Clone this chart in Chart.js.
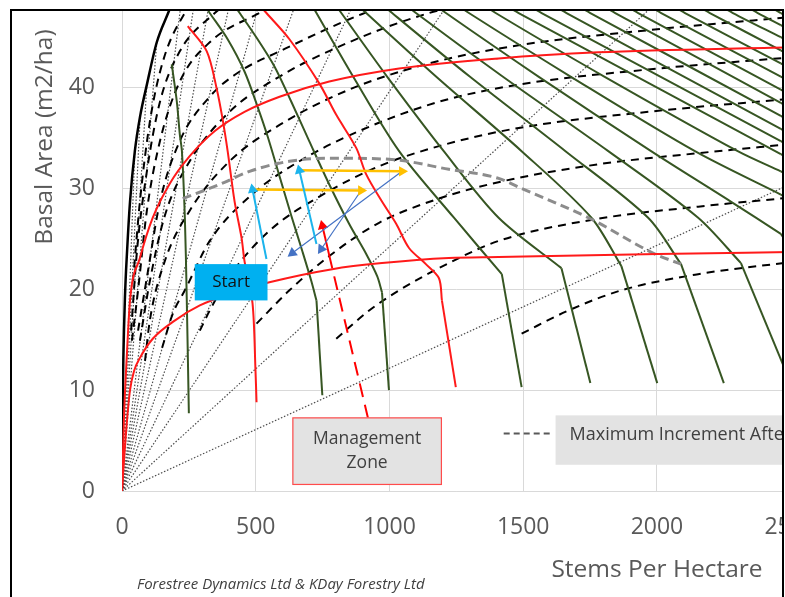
<!DOCTYPE html>
<html>
<head>
<meta charset="utf-8">
<script src="https://cdn.jsdelivr.net/npm/chart.js@4.4.0/dist/chart.umd.min.js"></script>
<style>
  html, body { margin: 0; padding: 0; background: #fff; }
  #page { position: relative; width: 785px; height: 597px; overflow: hidden; background: #fff; }
  #frame { position: absolute; left: 10px; top: 9px; width: 770px; height: 620px;
           border: 2px solid #000; border-bottom: none; overflow: hidden; background: #fff; }
  #wrap { position: absolute; left: -12px; top: -65px; width: 840px; height: 651px; }
</style>
</head>
<body>
<div id="page"><div id="frame"><div id="wrap"><canvas id="chart" width="840" height="651"></canvas></div></div></div>
<script>
// ---- data: [stems per hectare, basal area] ----
const maxDensity = [[0,0],[2,7],[5,13],[11,19.2],[19,23.8],[30,28.7],[48,33.7],[68,37.2],[93,40.3],[130,44.5],[171,47.3],[205,49.4]];

// red height curves
const heightLow  = [[0,0],[10,4],[22,8],[30,10],[45,11.9],[67,13.2],[115,15.1],[197,16.9],[291,18.4],[421,19.7],[551,20.7],[786,22.0],[972,22.6],[1222,23.1],[1408,23.2],[2004,23.5],[2500,23.7]];
const heightHigh = [[0,0],[7,7],[19,13.9],[30,18.9],[67,23.1],[115,27.1],[179,30.5],[253,33.2],[347,35.7],[458,37.6],[589,39.1],[775,40.6],[1036,41.9],[1408,42.9],[1781,43.5],[2500,44.0]];

// red planting trajectories
const plant500  = [[503,8.8],[499,12.0],[488,18.6],[458,22.8],[447,25.1],[421,28.7],[395,33.7],[376,36.9],[354,39.9],[317,43.6],[246,46.1]];
const plant1250 = [[1248,10.3],[1196,18.9],[1185,21.1],[1136,22.5],[1073,24.1],[1025,26.5],[972,28.7],[913,31.4],[876,34.0],[801,37.3],[738,40.4],[626,44.8],[540,47.4],[500,48.6]];

// green planting trajectories (first point = planting base)
const plant250  = [[250,7.7],[242,19.2],[235,27.1],[224,33.7],[216,35.4],[205,38.6],[186,42.3]];
const plant750  = [[749,9.5],[727,18.9],[708,20.8],[674,23.8],[633,27.3],[589,31.2],[544,35.2],[507,38.1],[458,41.6],[395,44.8],[328,47.4],[300,48.5]];
const plant1000 = [[998,10.0],[972,19.7],[954,21.3],[913,23.5],[849,26.5],[775,30.4],[700,34.7],[633,38.6],[570,42.1],[507,44.8],[440,47.4],[410,48.5]];
const plant1500 = [[1494,10.3],[1420,21.5],[1241,27.1],[1036,33.7],[864,41.1],[727,47.4],[692,49]];
const plant1750 = [[1751,10.7],[1643,22.1],[1408,27.1],[1203,33.7],[991,41.1],[820,47.4],[777,49]];
const plant2000 = [[2001,10.7],[1867,22.3],[1755,27.1],[1494,33.7],[1174,41.1],[913,47.4],[850,49]];
const plant2250 = [[2250,10.7],[2090,22.5],[1967,27.1],[1658,33.7],[1300,41.1],[1010,47.4],[940,49]];
const plant2500 = [[2500,10.7],[2314,22.6],[2154,27.1],[1818,33.7],[1423,41.1],[1099,47.4],[1025,49]];
const plant2750 = [[2537,22.8],[2463,25.5],[2276,28.7],[1978,33.7],[1557,41.1],[1211,47.4],[1130,49]];
const plant3000 = [[2638,26.3],[2463,29.4],[2142,33.7],[1677,41.1],[1297,47.4],[1210,49]];
const plant3250 = [[2640,29.5],[2463,31.7],[2302,33.7],[1803,41.1],[1397,47.4],[1310,49]];
const plant3500 = [[2640,30.9],[2463,33.4],[1483,47.4],[1411,48.5]];
const plant3750 = [[2640,32.2],[2463,34.7],[1569,47.4],[1497,48.5]];
const plant4000 = [[2640,33.4],[2463,35.9],[1662,47.4],[1590,48.5]];
const plant4250 = [[2640,34.7],[2463,37.2],[1751,47.4],[1679,48.5]];
const plant4500 = [[2640,36.0],[2463,38.5],[1844,47.4],[1772,48.5]];
const plant4750 = [[2640,37.3],[2463,39.8],[1930,47.4],[1858,48.5]];
const plant5000 = [[2640,38.6],[2463,41.1],[2016,47.4],[1944,48.5]];
const plant5250 = [[2640,39.9],[2463,42.4],[2105,47.4],[2033,48.5]];
const plant5500 = [[2640,41.2],[2463,43.7],[2198,47.4],[2126,48.5]];
const plant5750 = [[2640,42.5],[2463,45.0],[2284,47.4],[2212,48.5]];
const plant6000 = [[2640,43.7],[2463,46.2],[2377,47.4],[2305,48.5]];
const plant6250 = [[2640,45.0],[2463,47.4],[2391,48.5]];

// black dashed isolines
const iso1  = [[1494,15.6],[1669,17.9],[1867,19.9],[2154,21.5],[2500,22.7]];
const iso2  = [[801,15.1],[924,17.9],[1036,19.9],[1222,22.6],[1408,24.8],[1781,27.0],[2154,28.2],[2500,29.1]];
const iso3  = [[503,16.6],[626,19.9],[775,23.3],[961,26.6],[1185,29.0],[1420,30.7],[1781,32.4],[2154,33.5],[2500,34.4]];
const iso4  = [[291,15.9],[328,17.9],[402,21.3],[551,25.8],[738,29.2],[961,32.2],[1185,34.2],[1483,36.0],[1967,37.6],[2500,38.9]];
const iso5  = [[150,14.2],[190,17.6],[235,19.9],[328,24.8],[477,29.2],[663,32.7],[887,35.7],[1185,38.6],[1483,40.3],[1967,41.8],[2500,43.0]];
const iso6  = [[86,12.9],[104,16.9],[160,22.8],[253,27.8],[402,32.7],[589,36.3],[849,39.8],[1148,42.4],[1483,44.2],[1967,45.7],[2500,47.0]];
const iso7  = [[67,14.9],[104,20.8],[160,27.3],[253,32.7],[402,37.6],[589,41.1],[849,44.5],[1148,47.4],[1334,48.5]];
const iso8  = [[60,15.9],[97,21.8],[142,28.7],[216,34.7],[328,39.1],[440,41.6],[589,43.6],[898,47.3],[1036,48.5]];
const iso9  = [[37,14.9],[60,19.9],[93,27.8],[142,34.7],[216,40.6],[328,44.5],[514,47.4],[600,48.5]];
const iso10 = [[34,15.9],[56,23.8],[93,31.7],[142,38.6],[216,43.6],[347,47.4],[400,48.5]];
const iso11 = [[41,20.8],[67,28.7],[104,36.6],[153,42.6],[235,47.4],[270,48.5]];

// dotted mean-diameter rays: end of each ray from the origin
const rayEnds = [[2500,30.45],[1981,48],[1211,48],[860,48],[645,48],[509,48],[400,48],[324,48],[268,48],[219,48],
                 [130,44.5],[93,40.3],[68,37.2],[48,33.7]];

// grey dashed: maximum increment after thinning
const maxIncrement = [[227,29.0],[365,30.4],[477,31.7],[626,32.7],[775,33.0],[998,32.9],[1222,31.9],[1408,31.0],[1494,30.0],[1744,27.1],[1993,23.5],[2090,22.5]];

// management arrows [from, to]
const growA   = [[540,23.0],[488,29.9]];
const growB   = [[727,24.5],[663,31.8]];
const thinA   = [[496,29.9],[894,29.8]];
const thinB   = [[656,31.8],[1047,31.7]];
const backA   = [[1047,31.7],[637,23.6]];
const backB   = [[894,29.8],[745,24.0]];
const zoneTop = [[786,22.1],[749,26.3]];
const zoneLow = [[920,7.2],[786,22.1]];

// annotation anchors (data units)
const startBox = [272, 544, 22.5, 18.9];
const zoneBox  = [637, 1196, 7.3, 0.6];
const keyBox   = [1621, 2700, 7.5, 2.6];
const keyDash  = [1427, 1606, 5.7];

const FONT = '"Open Sans", "Noto Sans", sans-serif';
const GREEN = '#375623';
const RED = '#ff1a1a';

const pts = a => a.map(p => ({ x: p[0], y: p[1] }));

function line(data, color, width, opts) {
  return Object.assign({
    data: pts(data), showLine: true, borderColor: color, borderWidth: width,
    pointRadius: 0, tension: 0.3, fill: false
  }, opts || {});
}

function smooth(data, color, width, opts) {
  return line(data, color, width, Object.assign({ cubicInterpolationMode: 'monotone' }, opts || {}));
}

function arrow(data, color, width, rot, size, dash) {
  return line(data, color, width, {
    tension: 0, borderDash: dash || [],
    pointRadius: [0, size], pointStyle: 'triangle', pointRotation: [0, rot],
    pointBackgroundColor: color, pointBorderColor: color, pointBorderWidth: 0, order: 0
  });
}

// trajectory: straight base segment, then smooth curve
function trajectory(data, color, order) {
  return [
    line(data.slice(0, 2), color, 2, { tension: 0, order: order }),
    line(data.slice(1), color, 2, { tension: 0.3, order: order })
  ];
}

const datasets = [];
datasets.push(arrow(growA, '#1cb4ec', 2, -11, 6));
datasets.push(arrow(growB, '#1cb4ec', 2, -13, 6));
datasets.push(arrow(thinA, '#ffc000', 2.5, 90, 6));
datasets.push(arrow(thinB, '#ffc000', 2.5, 90, 6));
datasets.push(arrow(backA, '#4472c4', 1.2, 233, 6));
datasets.push(arrow(backB, '#4472c4', 1.2, 214, 6));
datasets.push(arrow(zoneTop, '#ff0000', 2, -13, 6));
datasets.push(line(zoneLow, '#ff0000', 2, { tension: 0, borderDash: [14, 8], order: 0 }));

datasets.push(smooth(heightLow, RED, 2, { order: 1 }));
datasets.push(smooth(heightHigh, RED, 2, { order: 1 }));
datasets.push(line(plant500, RED, 2, { order: 1 }));
datasets.push(...trajectory(plant1250, RED, 1));

datasets.push(smooth(maxIncrement, '#8c8c8c', 3, { borderDash: [9, 5], order: 2 }));
datasets.push(smooth(maxDensity, '#000000', 2.5, { order: 2 }));

datasets.push(line(plant250, GREEN, 2, { order: 3 }));
[plant750, plant1000, plant1500, plant1750, plant2000, plant2250, plant2500, plant2750,
 plant3000, plant3250, plant3500, plant3750, plant4000, plant4250, plant4500, plant4750,
 plant5000, plant5250, plant5500, plant5750, plant6000, plant6250]
  .forEach(g => datasets.push(...trajectory(g, GREEN, 3)));

[iso1, iso2, iso3, iso4, iso5, iso6, iso7, iso8, iso9, iso10, iso11]
  .forEach(d => datasets.push(smooth(d, '#000000', 2, { borderDash: [8, 6], order: 4 })));

rayEnds.forEach(e => datasets.push(line([[0, 0], e], '#4d4d4d', 1.2, { borderDash: [1.5, 1.8], tension: 0, order: 5 })));

const decor = {
  id: 'decor',
  afterDatasetsDraw(chart) {
    const { ctx } = chart;
    const X = v => chart.scales.x.getPixelForValue(v);
    const Y = v => chart.scales.y.getPixelForValue(v);
    ctx.save();
    ctx.textAlign = 'center';
    ctx.textBaseline = 'middle';

    // Start box
    let x0 = X(startBox[0]), x1 = X(startBox[1]), y0 = Y(startBox[2]), y1 = Y(startBox[3]);
    ctx.fillStyle = '#00b0f0';
    ctx.fillRect(x0, y0, x1 - x0, y1 - y0);
    ctx.fillStyle = '#111';
    ctx.font = '17px ' + FONT;
    ctx.fillText('Start', (x0 + x1) / 2, (y0 + y1) / 2);

    // Management zone box
    x0 = X(zoneBox[0]); x1 = X(zoneBox[1]); y0 = Y(zoneBox[2]); y1 = Y(zoneBox[3]);
    ctx.fillStyle = '#e3e3e3';
    ctx.fillRect(x0, y0, x1 - x0, y1 - y0);
    ctx.strokeStyle = '#ff4b4b';
    ctx.lineWidth = 1.2;
    ctx.strokeRect(x0 + 0.5, y0 + 0.5, x1 - x0 - 1, y1 - y0 - 1);
    ctx.fillStyle = '#404040';
    ctx.font = '17.5px ' + FONT;
    const cy = (y0 + y1) / 2;
    ctx.fillText('Management', (x0 + x1) / 2, cy - 12);
    ctx.fillText('Zone', (x0 + x1) / 2, cy + 12);
    ctx.restore();

    // key for the grey dashed line
    ctx.save();
    x0 = X(keyBox[0]); x1 = X(keyBox[1]); y0 = Y(keyBox[2]); y1 = Y(keyBox[3]);
    ctx.fillStyle = '#e3e3e3';
    ctx.fillRect(x0, y0, x1 - x0, y1 - y0);
    ctx.strokeStyle = '#595959';
    ctx.lineWidth = 2;
    ctx.setLineDash([6, 4]);
    ctx.beginPath();
    ctx.moveTo(X(keyDash[0]), Y(keyDash[2]));
    ctx.lineTo(X(keyDash[1]), Y(keyDash[2]));
    ctx.stroke();
    ctx.setLineDash([]);
    ctx.fillStyle = '#404040';
    ctx.font = '18px ' + FONT;
    ctx.textAlign = 'left';
    ctx.textBaseline = 'middle';
    ctx.fillText('Maximum Increment After Thinning', x0 + 14, (y0 + y1) / 2 - 5);
    ctx.restore();
  },
  afterDraw(chart) {
    const { ctx } = chart;
    const dy = chart.height - 637;
    ctx.save();
    ctx.fillStyle = '#595959';
    ctx.font = '24.5px ' + FONT;
    ctx.textAlign = 'center';
    ctx.textBaseline = 'middle';
    ctx.fillText('Stems Per Hectare', 657, 610 + dy);
    ctx.translate(45, 177 + dy);
    ctx.rotate(-Math.PI / 2);
    ctx.fillText('Basal Area (m2/ha)', 0, 0);
    ctx.restore();
    ctx.save();
    ctx.fillStyle = '#404040';
    ctx.font = 'italic 15px ' + FONT;
    ctx.textAlign = 'left';
    ctx.textBaseline = 'middle';
    ctx.fillText('Forestree Dynamics Ltd & KDay Forestry Ltd', 137, 625 + dy);
    ctx.restore();
  }
};

new Chart(document.getElementById('chart'), {
  type: 'scatter',
  data: { datasets },
  options: {
    responsive: false,
    animation: false,
    devicePixelRatio: 1,
    layout: { padding: { top: 25, right: 47, left: 0, bottom: 0 } },
    plugins: { legend: { display: false }, tooltip: { enabled: false } },
    scales: {
      x: {
        type: 'linear', min: 0, max: 2500,
        ticks: { stepSize: 500, color: '#595959', font: { size: 23, family: FONT }, padding: 23, maxRotation: 0,
                 callback: v => String(v) },
        grid: { color: '#d9d9d9', drawTicks: false },
        border: { color: '#d9d9d9' },
        afterFit(s) { s.height = 106; }
      },
      y: {
        type: 'linear', min: 0, max: 50,
        ticks: { stepSize: 10, color: '#595959', font: { size: 23, family: FONT }, padding: 27,
                 callback: v => String(v) },
        grid: { color: '#d9d9d9', drawTicks: false },
        border: { display: false },
        afterFit(s) { s.width = 122; }
      }
    }
  },
  plugins: [decor]
});
</script>
</body>
</html>
